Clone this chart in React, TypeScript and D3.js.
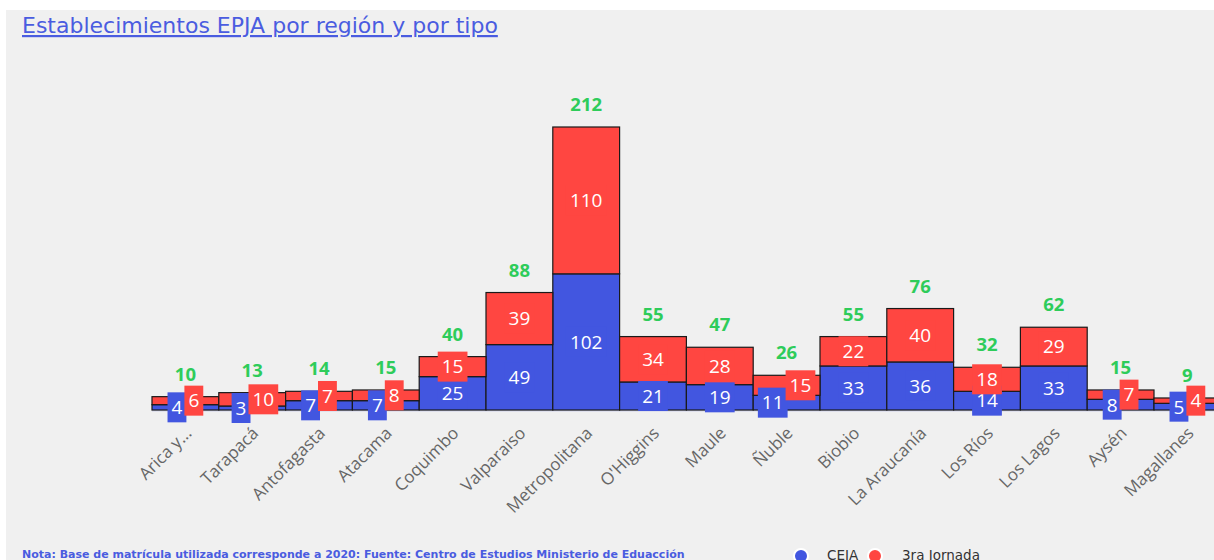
import React from "react";
import * as d3 from "d3";

const regions = [
  "Arica y...", "Tarapacá", "Antofagasta", "Atacama", "Coquimbo", "Valparaiso",
  "Metropolitana", "O'Higgins", "Maule", "Ñuble", "Biobio", "La Araucanía",
  "Los Ríos", "Los Lagos", "Aysén", "Magallanes",
];
const ceia = [4, 3, 7, 7, 25, 49, 102, 21, 19, 11, 33, 36, 14, 33, 8, 5];
const terceraJornada = [6, 10, 7, 8, 15, 39, 110, 34, 28, 15, 22, 40, 18, 29, 7, 4];
const seriesNames = ["CEIA", "3ra Jornada"];

const W = 1214;
const H = 560;
const BLUE = "#4256e0";
const RED = "#ff4641";
const GREEN = "#2ecc5a";
const TITLE_BLUE = "#4a5ce0";
const LABEL_FONT = 19;
const BOX_H = 30;

const colors = [BLUE, RED];

export default function App() {
  const rows = regions.map((r, i) => ({ region: r, CEIA: ceia[i], "3ra Jornada": terceraJornada[i] }));
  const totals = regions.map((_, i) => ceia[i] + terceraJornada[i]);
  const stacked = d3.stack<any>().keys(seriesNames)(rows);

  const x = d3.scaleBand().domain(regions).range([152, 152 + 16 * 66.8]).padding(0);
  const y = d3.scaleLinear().domain([0, d3.max(totals) as number]).range([410, 127]);
  const bw = x.bandwidth();

  // label boxes, pushed sideways when the two of a bar run into each other
  const labels: any[] = [];
  regions.forEach((r, i) => {
    const cx = (x(r) as number) + bw / 2;
    const pair = stacked.map((s, k) => {
      const v = s[i][1] - s[i][0];
      const txt = String(v);
      return {
        key: `${k}-${i}`,
        text: txt,
        x: cx,
        y: (y(s[i][0]) + y(s[i][1])) / 2,
        w: txt.length * LABEL_FONT * 0.572 + 8,
        color: colors[k],
      };
    });
    const [b, t] = pair;
    const overlap = Math.min(b.y, t.y) + BOX_H / 2 - (Math.max(b.y, t.y) - BOX_H / 2);
    if (overlap > 10) {
      const sep = (b.w + t.w) / 2 - 2;
      b.x = cx - sep / 2;
      t.x = cx + sep / 2;
    }
    labels.push(b, t);
  });
  const order = [...labels.filter((l) => l.color === BLUE), ...labels.filter((l) => l.color === RED)];

  return (
    <svg width={W} height={H} style={{ position: "absolute", left: 0, top: 0 }}>
      <rect width={W} height={H} fill="#ffffff" />
      <rect x={6} y={10} width={W - 6} height={H - 10} fill="#f0f0f0" />

      <text x={22} y={33} fontFamily="DejaVu Sans" fontSize={22} fill={TITLE_BLUE} textDecoration="underline">
        Establecimientos EPJA por región y por tipo
      </text>

      <line x1={152} x2={W} y1={y(0) + 0.5} y2={y(0) + 0.5} stroke="#cfd2ea" strokeWidth={2} />

      {stacked.map((s, k) => (
        <g key={s.key}>
          {s.map((d, i) => (
            <rect
              key={i}
              x={x(regions[i])}
              y={y(d[1])}
              width={bw}
              height={y(d[0]) - y(d[1])}
              fill={colors[k]}
              stroke="#1a1a1a"
              strokeWidth={1.2}
            />
          ))}
        </g>
      ))}

      {order.map((l) => (
        <g key={l.key}>
          <rect x={l.x - l.w / 2} y={l.y - BOX_H / 2} width={l.w} height={BOX_H} fill={l.color} />
          <text
            x={l.x}
            y={l.y}
            dy="0.36em"
            textAnchor="middle"
            fontFamily="Open Sans"
            fontSize={LABEL_FONT}
            fill="#ffffff"
          >
            {l.text}
          </text>
        </g>
      ))}

      {totals.map((t, i) => (
        <text
          key={i}
          x={(x(regions[i]) as number) + bw / 2}
          y={y(t) - 16}
          textAnchor="middle"
          fontFamily="Open Sans"
          fontWeight="bold"
          fontSize={18.5}
          fill={GREEN}
        >
          {t}
        </text>
      ))}

      {regions.map((r) => {
        const cx = (x(r) as number) + bw / 2;
        return (
          <text
            key={r}
            transform={`translate(${cx + 3},${430}) rotate(-45)`}
            dy="0.35em"
            textAnchor="end"
            fontFamily="Open Sans"
            fontSize={17}
            fill="#666666"
          >
            {r}
          </text>
        );
      })}

      <text x={22} y={558} fontFamily="DejaVu Sans" fontWeight="bold" fontSize={11} fill={TITLE_BLUE}>
        Nota: Base de matrícula utilizada corresponde a 2020: Fuente: Centro de Estudios Ministerio de Eduacción
      </text>

      <g fontFamily="DejaVu Sans" fontSize={13.5} fill="#333333">
        <circle cx={801} cy={556} r={7} fill={BLUE} stroke="#ffffff" strokeWidth={2} />
        <text x={827} y={560}>{seriesNames[0]}</text>
        <circle cx={875} cy={556} r={7} fill={RED} stroke="#ffffff" strokeWidth={2} />
        <text x={902} y={560}>{seriesNames[1]}</text>
      </g>
    </svg>
  );
}
